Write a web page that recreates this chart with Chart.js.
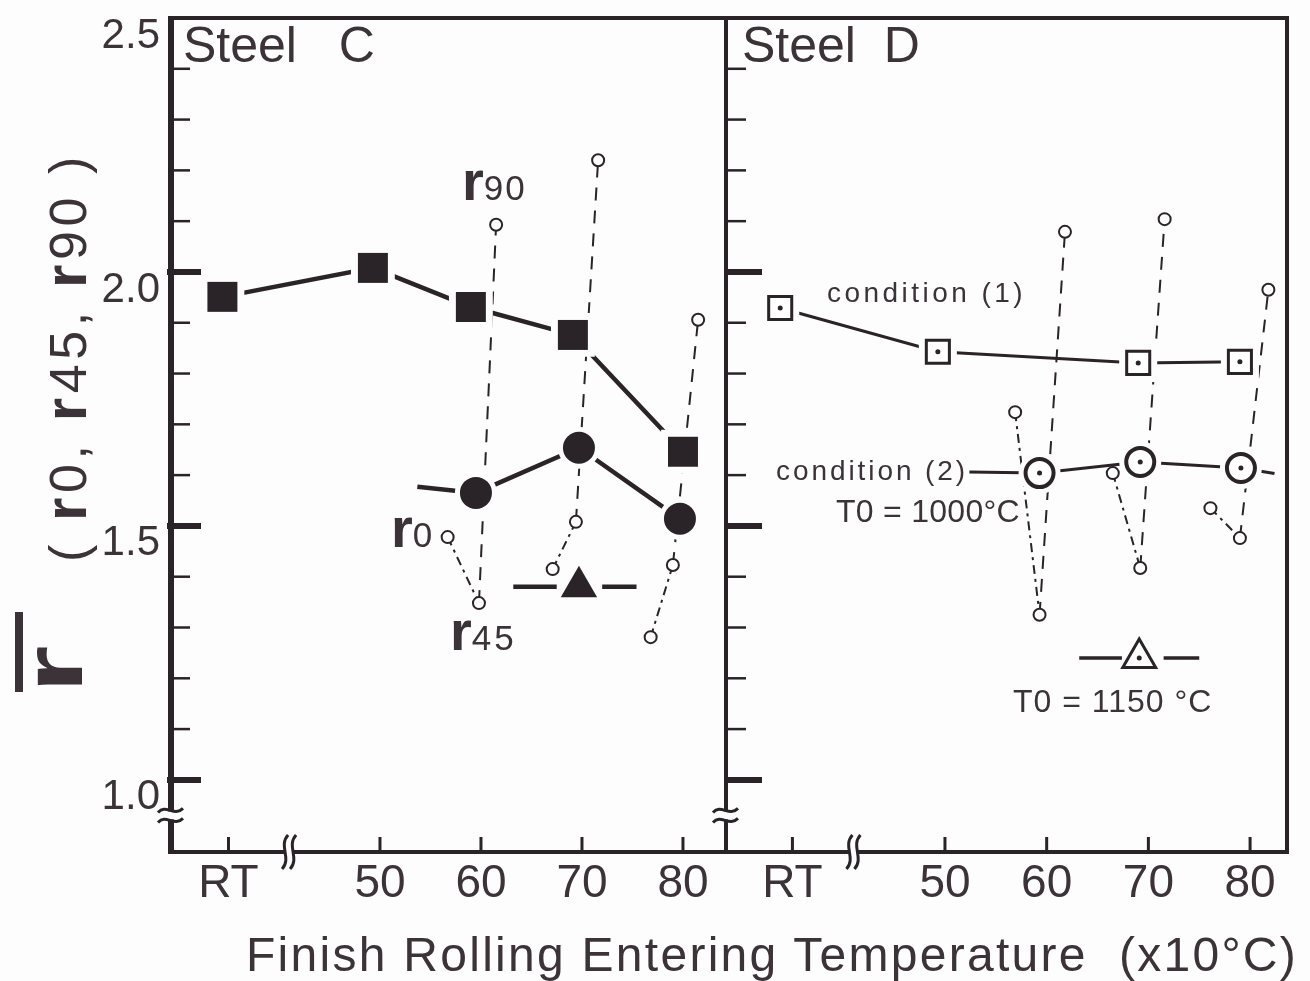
<!DOCTYPE html>
<html>
<head>
<meta charset="utf-8">
<title>r-value vs finish rolling entering temperature</title>
<script src="https://cdn.jsdelivr.net/npm/chart.js@4.4.1/dist/chart.umd.min.js"></script>
<style>
  html, body { margin: 0; padding: 0; background: #fdfdfd; }
  #wrap { position: relative; width: 1310px; height: 981px; overflow: hidden;
          font-family: "Liberation Sans", Arial, Helvetica, sans-serif; color: #3b3338; }
  canvas { position: absolute; left: 0; top: 0; }
  .lbl { position: absolute; white-space: pre; line-height: 1; }
  .rr { font-weight: bold; }
  .rot { position: absolute; white-space: pre; line-height: 1; transform-origin: 0 0; transform: rotate(-90deg); }
  .rot b { font-size: 60px; }
  #rbarLine { position: absolute; left: 15px; top: 612px; width: 8px; height: 80px; background: #3b3338; }
</style>
</head>
<body>
<div id="wrap">
  <canvas id="chartC" width="1310" height="981"></canvas>
  <canvas id="chartD" width="1310" height="981"></canvas>

  <div class="lbl" style="font-size:50px" data-x="183" data-b="62">Steel   C</div>
  <div class="lbl" style="font-size:50px" data-x="742" data-b="62">Steel  D</div>

  <div class="lbl" style="font-size:56px" data-x="462" data-b="200"><span class="rr">r</span><span style="font-size:35px;letter-spacing:2px">90</span></div>
  <div class="lbl" style="font-size:56px" data-x="391" data-b="547"><span class="rr">r</span><span style="font-size:35px">0</span></div>
  <div class="lbl" style="font-size:56px" data-x="450" data-b="650"><span class="rr">r</span><span style="font-size:35px;letter-spacing:3px">45</span></div>

  <div class="lbl" style="font-size:28px" data-x="827" data-b="303" data-w="199">condition (1)</div>
  <div class="lbl" style="font-size:28px" data-x="776" data-b="481" data-w="192">condition (2)</div>
  <div class="lbl" style="font-size:32px" data-x="836" data-b="522" data-w="184">T0 = 1000°C</div>
  <div class="lbl" style="font-size:32px" data-x="1013" data-b="712" data-w="199">T0 = 1150 °C</div>

  <div class="lbl" style="font-size:48px" data-x="246" data-b="972" data-w="1052">Finish Rolling Entering Temperature  (x10°C)</div>

  <div id="rbarLine"></div>
  <div class="rot" style="font-size:84px" data-x="82" data-y="693"><span class="rr" style="display:inline-block;transform:scaleX(1.45);transform-origin:0 0">r</span></div>
  <div class="rot" style="font-size:52px" data-x="80" data-y="562" data-w="410">( <b>r</b>0, <b>r</b>45, <b>r</b>90 )</div>
</div>

<script>
const INK = '#2a2327';
const TEXT = '#3b3338';
const BG = '#fdfdfd';
const FONT = '"Liberation Sans", Arial, Helvetica, sans-serif';

// axes (RT is placed at 35 on the broken temperature axis)
const xTickPos = [35, 50, 60, 70, 80];
const xTickLabels = ['RT', '50', '60', '70', '80'];
const xBreakAt = 41;
const yLabelTicks = [1.0, 1.5, 2.0, 2.5];
const yMajorTicks = [1.0, 1.5, 2.0];
const yMinorTicks = [1.1, 1.2, 1.3, 1.4, 1.6, 1.7, 1.8, 1.9, 2.1, 2.2, 2.3, 2.4];
const yBreakAt = 0.93;
const Y_MIN = 0.858;
const Y_MAX = 2.5;

// Steel C : r-bar (filled squares / filled circles / filled triangle)
const cSqX = [34.4, 49.3, 59.0, 69.1, 80.0];
const cSqY = [1.951, 2.008, 1.931, 1.876, 1.646];
const cCircX = [59.5, 69.7, 79.7];
const cCircY = [1.565, 1.654, 1.514];
const cCircLeadX = [53.7];
const cCircLeadY = [1.577];
const cTriX = [69.7];
const cTriY = [1.38];
const cTriStubX = [63.2, 67.5, 72.0, 75.4];
// Steel C : r0, r45, r90 for the circle series
const cR0X = [56.7, 67.1, 76.8];
const cR0 = [1.478, 1.415, 1.281];
const cR45X = [59.8, 69.4, 79.0];
const cR45 = [1.348, 1.508, 1.423];
const cR90X = [61.5, 71.6, 81.5];
const cR90 = [2.093, 2.220, 1.906];

// Steel D : condition (1), condition (2), T0 = 1150 C
const dSqX = [33.8, 49.3, 69.0, 79.0];
const dSqY = [1.929, 1.843, 1.821, 1.823];
const dCircX = [59.3, 69.2, 79.1];
const dCircY = [1.604, 1.626, 1.614];
const dCircLeadX = [52.4, 82.4];
const dCircLeadY = [1.606, 1.603];
const dTriX = [69.1];
const dTriY = [1.24];
const dTriStubX = [63.2, 67.4, 71.5, 75.0];
// Steel D : r0, r45, r90 for condition (2)
const dR0X = [56.9, 66.5, 76.1];
const dR0 = [1.724, 1.604, 1.535];
const dR45X = [59.3, 69.2, 79.0];
const dR45 = [1.325, 1.417, 1.476];
const dR90X = [61.8, 71.6, 81.8];
const dR90 = [2.079, 2.104, 1.965];

function pts(xs, ys) {
    return xs.map((x, i) => ({ x: x, y: ys[i] }));
}

function lineDs(data, width, order) {
    return {
        data: data, showLine: true, borderColor: INK, borderWidth: width,
        pointRadius: 0, pointHoverRadius: 0, order: order, borderCapStyle: 'butt'
    };
}

function pointDs(data, style, radius, fill, edge, edgeWidth, order) {
    return {
        data: data, showLine: false, pointStyle: style,
        pointRadius: radius, pointHoverRadius: radius,
        pointBackgroundColor: fill, pointBorderColor: edge,
        pointBorderWidth: edgeWidth, pointHoverBorderWidth: edgeWidth, order: order
    };
}

// one zig-zag r0 - r45 - r90 per temperature, dash-dot then dashed
function rLineSets(r0x, r0, r45x, r45, r90x, r90) {
    const sets = [];
    for (let i = 0; i < r0.length; i++) {
        const data = [
            { x: r0x[i], y: r0[i] },
            { x: r45x[i], y: r45[i] },
            { x: r90x[i], y: r90[i] }
        ];
        const ds = lineDs(data, 2, 9);
        ds.segment = {
            borderDash: ctx => ctx.p0DataIndex === 0 ? [9, 5, 3, 5] : [13, 10]
        };
        sets.push(ds);
        sets.push(pointDs(data, 'circle', 6, '#ffffff', INK, 2, 1));
    }
    return sets;
}

function stubSets(xs, y, width) {
    return [
        lineDs(pts([xs[0], xs[1]], [y, y]), width, 8),
        lineDs(pts([xs[2], xs[3]], [y, y]), width, 8)
    ];
}

function buildSteelC() {
    const sq = pts(cSqX, cSqY);
    const circ = pts(cCircX, cCircY);
    const circLine = pts(cCircLeadX, cCircLeadY).concat(circ);
    const tri = pts(cTriX, cTriY);
    return [
        lineDs(sq, 4.5, 8),
        lineDs(circLine, 4.5, 8),
        ...stubSets(cTriStubX, cTriY[0], 4.5),
        pointDs(sq, 'rect', 31, BG, BG, 0, 5),
        pointDs(circ, 'circle', 21, BG, BG, 0, 5),
        pointDs(sq, 'rect', 21.2, INK, INK, 0, 3),
        pointDs(circ, 'circle', 16, INK, INK, 0, 3),
        pointDs(tri, 'triangle', 21, INK, INK, 0, 3),
        ...rLineSets(cR0X, cR0, cR45X, cR45, cR90X, cR90)
    ];
}

function buildSteelD() {
    const sq = pts(dSqX, dSqY);
    const circ = pts(dCircX, dCircY);
    const circLine = [{ x: dCircLeadX[0], y: dCircLeadY[0] }].concat(circ, [{ x: dCircLeadX[1], y: dCircLeadY[1] }]);
    const tri = pts(dTriX, dTriY);
    return [
        lineDs(sq, 3, 8),
        lineDs(circLine, 3, 8),
        ...stubSets(dTriStubX, dTriY[0], 3.5),
        pointDs(sq, 'rect', 26.9, BG, BG, 0, 5),
        pointDs(circ, 'circle', 21, BG, BG, 0, 5),
        pointDs(sq, 'rect', 16.3, '#ffffff', INK, 3, 3),
        pointDs(circ, 'circle', 14, '#ffffff', INK, 4, 3),
        pointDs(tri, 'triangle', 19, '#ffffff', INK, 3, 3),
        pointDs(sq, 'circle', 2.5, INK, INK, 0, 2),
        pointDs(circ, 'circle', 2.5, INK, INK, 0, 2),
        pointDs(tri, 'circle', 2.5, INK, INK, 0, 2),
        ...rLineSets(dR0X, dR0, dR45X, dR45, dR90X, dR90)
    ];
}

function segment(ctx, x1, y1, x2, y2) {
    ctx.beginPath();
    ctx.moveTo(x1, y1);
    ctx.lineTo(x2, y2);
    ctx.stroke();
}

// frame, inward ticks and axis breaks
const frameDeco = {
    id: 'frameDeco',
    afterDatasetsDraw(chart, args, o) {
        const { ctx, chartArea: a } = chart;
        const x = chart.scales.x;
        const y = chart.scales.y;
        ctx.save();
        ctx.strokeStyle = INK;
        ctx.lineCap = 'butt';

        ctx.lineWidth = 4;
        ctx.strokeRect(a.left, a.top, a.right - a.left, a.bottom - a.top);
        ctx.lineWidth = o.leftWidth;
        segment(ctx, a.left, a.top - 2, a.left, a.bottom + 2);

        ctx.lineWidth = 2.5;
        yMinorTicks.forEach(v => {
            const py = y.getPixelForValue(v);
            segment(ctx, a.left, py, a.left + o.minorLen, py);
        });
        ctx.lineWidth = 6;
        yMajorTicks.forEach(v => {
            const py = y.getPixelForValue(v);
            segment(ctx, a.left - o.majorOut, py, a.left + o.majorLen, py);
        });
        ctx.lineWidth = 3;
        xTickPos.forEach(v => {
            const px = x.getPixelForValue(v);
            segment(ctx, px, a.bottom, px, a.bottom - 15);
        });

        // broken y axis
        const by = y.getPixelForValue(yBreakAt);
        ctx.fillStyle = BG;
        ctx.fillRect(a.left - 4, by - 4, 8, 8);
        ctx.lineWidth = 3;
        [-5, 5].forEach(dy => {
            ctx.beginPath();
            ctx.moveTo(a.left - 13, by + dy + 2);
            ctx.bezierCurveTo(a.left - 5, by + dy - 7, a.left + 3, by + dy + 7, a.left + 12, by + dy - 2);
            ctx.stroke();
        });

        // broken x axis
        const bx = x.getPixelForValue(xBreakAt);
        ctx.fillRect(bx - 4, a.bottom - 4, 8, 8);
        [-4, 4].forEach(dx => {
            ctx.beginPath();
            ctx.moveTo(bx + dx + 3, a.bottom - 17);
            ctx.bezierCurveTo(bx + dx - 7, a.bottom - 6, bx + dx + 7, a.bottom + 6, bx + dx - 3, a.bottom + 17);
            ctx.stroke();
        });
        ctx.restore();
    }
};

function makeChart(canvasId, datasets, xMin, xMax, padLeft, padRight, showY, deco) {
    const ctx = document.getElementById(canvasId).getContext('2d');
    return new Chart(ctx, {
        type: 'scatter',
        data: { datasets: datasets },
        plugins: [frameDeco],
        options: {
            responsive: false,
            devicePixelRatio: 1,
            animation: false,
            events: [],
            layout: { autoPadding: false, padding: { left: padLeft, right: padRight, top: 18, bottom: 0 } },
            plugins: {
                legend: { display: false },
                tooltip: { enabled: false },
                frameDeco: deco
            },
            scales: {
                x: {
                    type: 'linear',
                    min: xMin,
                    max: xMax,
                    afterBuildTicks: s => { s.ticks = xTickPos.map(v => ({ value: v })); },
                    afterFit: s => { s.height = 129; s.paddingLeft = 0; s.paddingRight = 0; },
                    ticks: {
                        autoSkip: false, maxRotation: 0, padding: 5,
                        color: TEXT, font: { family: FONT, size: 46 },
                        callback: (v, i) => xTickLabels[i]
                    },
                    grid: { display: false, drawTicks: false },
                    border: { display: false }
                },
                y: {
                    type: 'linear',
                    display: showY,
                    min: Y_MIN,
                    max: Y_MAX,
                    afterBuildTicks: s => { s.ticks = yLabelTicks.map(v => ({ value: v })); },
                    afterFit: s => {
                        if (showY) s.width = 171;
                        s.paddingTop = 0;
                        s.paddingBottom = 0;
                    },
                    ticks: {
                        padding: 11, labelOffset: 18,
                        color: TEXT, font: { family: FONT, size: 42 },
                        callback: v => v.toFixed(1)
                    },
                    grid: { display: false, drawTicks: false },
                    border: { display: false }
                }
            }
        }
    });
}

function fitWidth(el) {
    if (!el.dataset.w) return;
    el.style.letterSpacing = '0px';
    const w = el.offsetWidth;
    const n = el.textContent.length;
    el.style.letterSpacing = ((parseFloat(el.dataset.w) - w) / n) + 'px';
}

function placeLabels() {
    document.querySelectorAll('.lbl[data-x]').forEach(el => {
        const fs = parseFloat(getComputedStyle(el).fontSize);
        fitWidth(el);
        el.style.left = el.dataset.x + 'px';
        el.style.top = (parseFloat(el.dataset.b) - 0.8465 * fs) + 'px';
    });
    // rotated y-axis title pieces: data-y is where the text starts (bottom), data-x the baseline
    document.querySelectorAll('.rot').forEach(el => {
        const fs = parseFloat(getComputedStyle(el).fontSize);
        fitWidth(el);
        el.style.left = (parseFloat(el.dataset.x) - 0.8465 * fs) + 'px';
        el.style.top = el.dataset.y + 'px';
    });
}

document.addEventListener('DOMContentLoaded', function() {
    placeLabels();
    makeChart('chartC', buildSteelC(), 29.31, 84.26, 0, 584, true,
        { leftWidth: 6, minorLen: 19, majorLen: 30, majorOut: 4 });
    makeChart('chartD', buildSteelD(), 28.47, 83.63, 726, 23, false,
        { leftWidth: 4, minorLen: 20, majorLen: 36, majorOut: 0 });
});
</script>
</body>
</html>
